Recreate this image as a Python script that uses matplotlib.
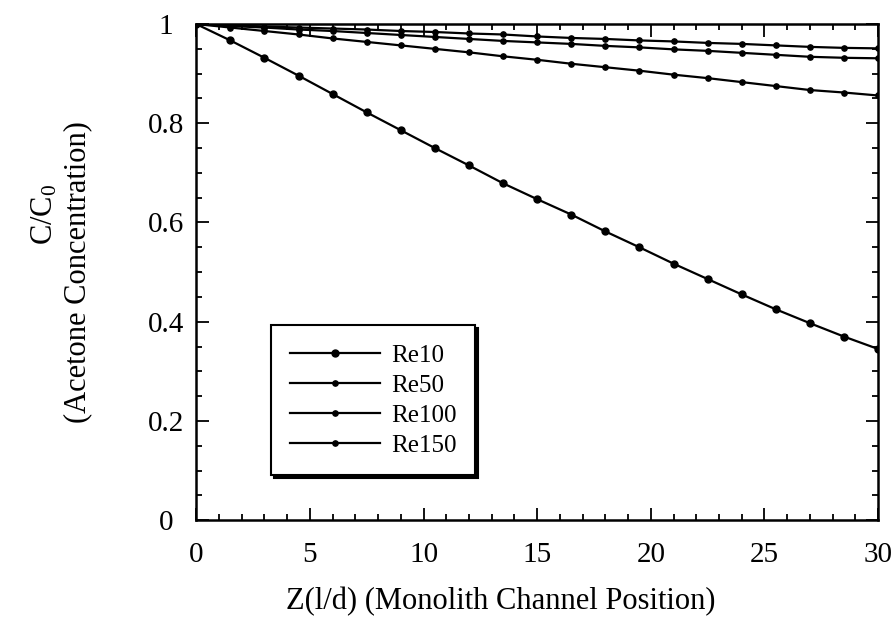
import matplotlib
matplotlib.use("Agg")
import matplotlib.pyplot as plt
from matplotlib.ticker import MultipleLocator, FormatStrFormatter

plt.rcParams['font.family'] = ['Liberation Serif', 'DejaVu Serif']
plt.rcParams['mathtext.default'] = 'regular'

# channel position, points every 1.5 l/d
z = [0, 1.5, 3, 4.5, 6, 7.5, 9, 10.5, 12, 13.5, 15, 16.5, 18, 19.5, 21,
     22.5, 24, 25.5, 27, 28.5, 30]

re10 = [1.0, 0.967, 0.932, 0.896, 0.859, 0.822, 0.786, 0.750, 0.715, 0.679,
        0.647, 0.616, 0.582, 0.550, 0.517, 0.486, 0.455, 0.425, 0.397, 0.370,
        0.345]
re50 = [1.0, 0.993, 0.986, 0.979, 0.971, 0.964, 0.957, 0.950, 0.943, 0.935,
        0.928, 0.920, 0.913, 0.906, 0.898, 0.891, 0.883, 0.875, 0.867, 0.862,
        0.856]
re100 = [1.0, 0.996, 0.993, 0.989, 0.986, 0.982, 0.978, 0.974, 0.970, 0.966,
         0.963, 0.960, 0.956, 0.953, 0.949, 0.946, 0.942, 0.938, 0.934, 0.932,
         0.931]
re150 = [1.0, 0.998, 0.995, 0.993, 0.991, 0.989, 0.986, 0.984, 0.981, 0.979,
         0.975, 0.972, 0.970, 0.967, 0.965, 0.962, 0.960, 0.957, 0.954, 0.952,
         0.951]

labels = ["Re10", "Re50", "Re100", "Re150"]

fig = plt.figure(figsize=(8.96, 6.17), dpi=100)
ax = fig.add_axes([0.219, 0.157, 0.761, 0.804])

ax.plot(z, re10, '-o', color='black', lw=1.6, ms=5, label=labels[0])
ax.plot(z, re50, '-o', color='black', lw=1.6, ms=3.8, label=labels[1])
ax.plot(z, re100, '-o', color='black', lw=1.6, ms=3.8, label=labels[2])
ax.plot(z, re150, '-o', color='black', lw=1.6, ms=3.8, label=labels[3])

ax.set_xlim(0, 30)
ax.set_ylim(0, 1)
ax.xaxis.set_major_locator(MultipleLocator(5))
ax.xaxis.set_minor_locator(MultipleLocator(1))
ax.yaxis.set_major_locator(MultipleLocator(0.2))
ax.yaxis.set_minor_locator(MultipleLocator(0.05))
ax.yaxis.set_major_formatter(FormatStrFormatter('%g'))
ax.tick_params(which='both', direction='in', top=True, right=True, width=1.3)
ax.tick_params(which='major', length=9)
ax.tick_params(which='minor', length=4.5)
ax.tick_params(axis='x', labelsize=21, pad=16)
ax.tick_params(axis='y', labelsize=21, pad=22)
fig.canvas.draw()
for t in ax.get_yticklabels():
    t.set_horizontalalignment('center')
for s in ax.spines.values():
    s.set_linewidth(1.8)

ax.set_xlabel("Z(l/d) (Monolith Channel Position)", fontsize=22)
ax.xaxis.set_label_coords(0.447, -0.135)
fig.text(45 / 896, 1 - 214 / 617, "C/C$_0$", rotation=90, ha='center',
         va='center', fontsize=22)
fig.text(78 / 896, 1 - 272 / 617, "(Acetone Concentration)", rotation=90,
         ha='center', va='center', fontsize=22)

leg = ax.legend(loc='lower left', bbox_to_anchor=(0.11, 0.09), fontsize=18,
                handlelength=3.6, handletextpad=0.45, labelspacing=0.3,
                borderpad=0.75, borderaxespad=0, fancybox=False, framealpha=1,
                shadow={'color': 'black', 'alpha': 1}, edgecolor='black')
leg.get_frame().set_linewidth(1.5)

fig.savefig("out.png", dpi=100)
